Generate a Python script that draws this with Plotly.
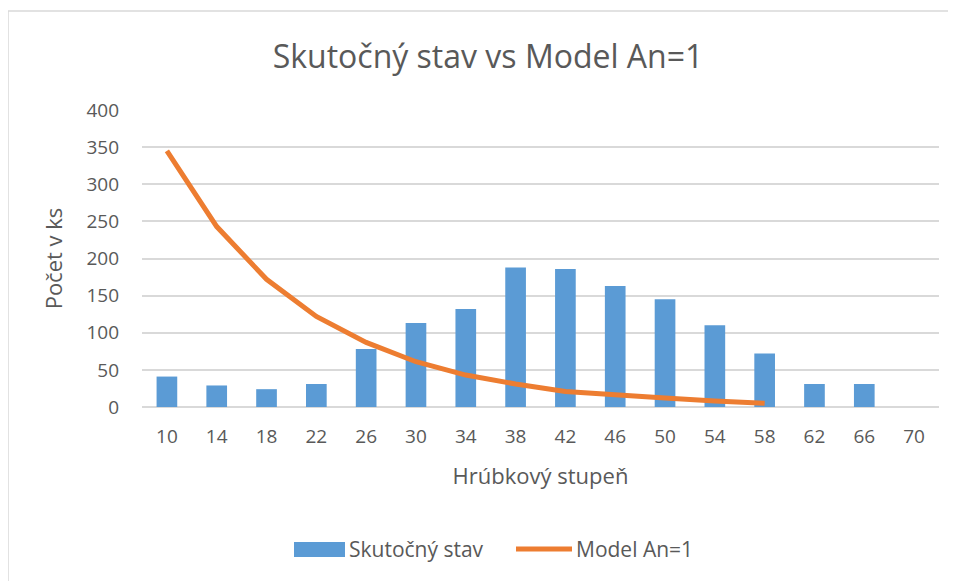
import plotly.graph_objects as go

categories = ["10", "14", "18", "22", "26", "30", "34", "38", "42", "46", "50", "54", "58", "62", "66", "70"]
skutocny_stav = [41, 29, 24, 31, 78, 113, 132, 188, 186, 163, 145, 110, 72, 31, 31, 0]
model_categories = ["10", "14", "18", "22", "26", "30", "34", "38", "42", "46", "50", "54", "58"]
model_an1 = [345, 243, 172, 122, 87, 61, 43, 31, 21, 16, 12, 8, 5]
y_ticks = [0, 50, 100, 150, 200, 250, 300, 350, 400]

TEXT = "#595959"
GRID = "#D9D9D9"
BLUE = "#5B9BD5"
ORANGE = "#ED7D31"
FONT = "Open Sans"

OFF = 8  # page offset of the rendered figure
W, H = 956 - OFF, 581 - OFF
L, T = 142 - OFF, 110 - OFF
pw, ph = 797, 297
R, B = W - L - pw, H - T - ph


def px_x(p):
    return (p - OFF - L) / pw


def px_y(p):
    return (T + ph - (p - OFF)) / ph


fig = go.Figure()
fig.add_trace(go.Bar(
    x=categories, y=skutocny_stav, name="Skutočný stav",
    marker=dict(color=BLUE, line=dict(width=0)), showlegend=False,
))
fig.add_trace(go.Scatter(
    x=model_categories, y=model_an1, name="Model An=1", mode="lines",
    line=dict(color=ORANGE, width=5), showlegend=False,
))

# chart frame (only left and top edges visible in the reference)
fig.add_shape(type="line", xref="paper", yref="paper",
              x0=px_x(8), x1=px_x(8), y0=px_y(590), y1=px_y(11),
              line=dict(color=GRID, width=1.5), layer="below")
fig.add_shape(type="line", xref="paper", yref="paper",
              x0=px_x(8), x1=px_x(960), y0=px_y(11), y1=px_y(11),
              line=dict(color=GRID, width=1.5), layer="below")

# custom legend (Excel style)
fig.add_shape(type="rect", xref="paper", yref="paper",
              x0=px_x(294), x1=px_x(345), y0=px_y(557), y1=px_y(542),
              line=dict(width=0), fillcolor=BLUE)
fig.add_shape(type="line", xref="paper", yref="paper",
              x0=px_x(516), x1=px_x(572), y0=px_y(549), y1=px_y(549),
              line=dict(color=ORANGE, width=5))
fig.add_annotation(text="Skutočný stav", xref="paper", yref="paper",
                   x=px_x(347), y=px_y(549), xanchor="left", yanchor="middle",
                   showarrow=False, font=dict(size=21, color=TEXT, family=FONT))
fig.add_annotation(text="Model An=1", xref="paper", yref="paper",
                   x=px_x(574), y=px_y(549), xanchor="left", yanchor="middle",
                   showarrow=False, font=dict(size=21, color=TEXT, family=FONT))

fig.update_layout(
    width=W, height=H,
    margin=dict(l=L, r=R, t=T, b=B, autoexpand=False),
    paper_bgcolor="white", plot_bgcolor="white",
    font=dict(family=FONT, color=TEXT, size=18),
    bargap=0.585,
    title=dict(text="Skutočný stav vs Model An=1", xref="paper", x=px_x(488), xanchor="center",
               y=1 - (57 - OFF) / H, yanchor="middle", yref="container",
               font=dict(size=32, color=TEXT, family=FONT)),
    xaxis=dict(type="category", categoryorder="array", categoryarray=categories,
               showgrid=False, showline=False, ticks="",
               tickfont=dict(size=19, color=TEXT), ticklabelstandoff=16,
               title=dict(text="Hrúbkový stupeň", font=dict(size=22, color=TEXT), standoff=20)),
    yaxis=dict(range=[0, 400], tickvals=y_ticks, showgrid=True, gridcolor=GRID, gridwidth=2,
               zeroline=True, zerolinecolor=GRID, zerolinewidth=2, showline=False, ticks="",
               tickfont=dict(size=19, color=TEXT), ticklabelstandoff=22,
               title=dict(text="Počet v ks", font=dict(size=22, color=TEXT), standoff=17)),
    showlegend=False,
)

fig.write_html("out.html", config={"displayModeBar": False})
